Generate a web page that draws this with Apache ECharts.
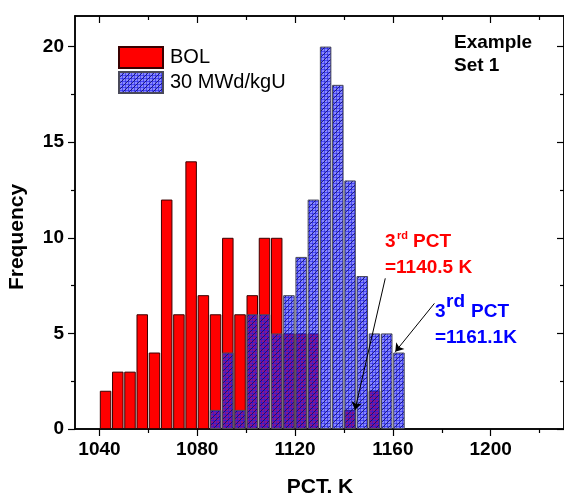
<!DOCTYPE html>
<html>
<head>
<meta charset="utf-8">
<script src="https://cdn.jsdelivr.net/npm/echarts@6/dist/echarts.min.js"></script>
<style>
html,body{margin:0;padding:0;background:#fff;}
#chart{width:564px;height:495px;}
</style>
</head>
<body>
<div id="chart"></div>
<script>
// ---- data ----
const binCenters = [1042.5,1047.5,1052.5,1057.5,1062.5,1067.5,1072.5,1077.5,1082.5,1087.5,1092.5,1097.5,1102.5,1107.5,1112.5,1117.5,1122.5,1127.5,1132.5,1137.5,1142.5,1147.5,1152.5,1157.5,1162.5];
const bolCounts    = [2,3,3,6,4,12,6,14,7,6,10,6,7,10,10,5,5,5,0,0,1,0,2,0,0];
const burnupCounts = [0,0,0,0,0,0,0,0,0,1,4,1,6,6,5,7,9,12,20,18,13,8,5,5,4];
const seriesNames = ['BOL','30 MWd/kgU'];
const xMajorTicks = [1040,1080,1120,1160,1200];
const xMinorTicks = [1060,1100,1140,1180,1220];
const yMajorTicks = [0,5,10,15,20];
const yMinorTicks = [2.5,7.5,12.5,17.5];
const redArrow  = [[1156.9,7.88],[1144.5,0.99]];
const blueArrow = [[1177.0,6.57],[1161.0,4.04]];

const FONT = '"Liberation Sans", Arial, sans-serif';

function toPairs(xs, ys){
  const out=[];
  for(let i=0;i<xs.length;i++){ if(ys[i]>0) out.push([xs[i], ys[i]]); }
  return out;
}

function makePattern(){
  const n=6;
  const c=document.createElement('canvas'); c.width=n; c.height=n;
  const ctx=c.getContext('2d');
  ctx.clearRect(0,0,n,n);
  ctx.fillStyle='rgba(40,40,255,0.55)';
  ctx.fillRect(0,0,n,n);
  ctx.fillStyle='rgba(30,30,230,0.55)';
  for(let k=0;k<n;k+=3){ ctx.fillRect(k,0,1,n); ctx.fillRect(0,k,n,1); }
  ctx.fillStyle='rgba(10,10,90,0.75)';
  for(let x=0;x<n;x++){ const y=(n-1-x); ctx.fillRect(x,y,1,1); }
  return c;
}
const blueFill = {image: makePattern(), repeat:'repeat'};

const chart = echarts.init(document.getElementById('chart'), null, {renderer:'canvas'});

const axisLineStyle = {color:'#000', width:1.5};
const plainLabel = v => String(v);
function xAx(pos, custom, len, inside, labels){
  return {
    type:'value', position:pos, min:1030, max:1230, gridIndex:0,
    axisLine:{show:true, onZero:false, lineStyle:axisLineStyle},
    axisTick:{show:true, customValues:custom, length:len, inside:inside, lineStyle:{color:'#000', width:1.2}},
    axisLabel: labels ? {show:true, customValues:custom, formatter:plainLabel, fontFamily:FONT, fontWeight:'bold', fontSize:19, color:'#000', margin:11} : {show:false},
    splitLine:{show:false}
  };
}
function yAx(pos, custom, len, inside, labels){
  return {
    type:'value', position:pos, min:0, max:21.6, gridIndex:0,
    axisLine:{show:true, onZero:false, lineStyle:axisLineStyle},
    axisTick:{show:true, customValues:custom, length:len, inside:inside, lineStyle:{color:'#000', width:1.2}},
    axisLabel: labels ? {show:true, customValues:custom, formatter:plainLabel, fontFamily:FONT, fontWeight:'bold', fontSize:19, color:'#000', margin:11} : {show:false},
    splitLine:{show:false}
  };
}

const option = {
  animation:false,
  backgroundColor:'#fff',
  grid:{left:75, right:-2, top:16, bottom:66},
  xAxis:[
    xAx('bottom', xMajorTicks, 7, false, true),
    xAx('bottom', xMinorTicks, 4, false, false),
    xAx('top', xMajorTicks, 7, true, false),
    xAx('top', xMinorTicks, 4, true, false)
  ],
  yAxis:[
    yAx('left', yMajorTicks, 7, false, true),
    yAx('left', yMinorTicks, 4, false, false),
    yAx('right', yMajorTicks, 7, true, false),
    yAx('right', yMinorTicks, 4, true, false)
  ],
  legend:{
    orient:'vertical', left:113, top:41, itemWidth:44, itemHeight:21, itemGap:2,
    icon:'rect',
    textStyle:{fontFamily:FONT, fontSize:20, color:'#000', padding:[0,0,0,2]},
    data:seriesNames
  },
  series:[
    {
      name:seriesNames[0], type:'bar', xAxisIndex:0, yAxisIndex:0,
      data: toPairs(binCenters, bolCounts),
      barWidth:11.5, barGap:'-100%',
      itemStyle:{color:'#ff0000', borderColor:'#3a0000', borderWidth:1}
    },
    {
      name:seriesNames[1], type:'bar', xAxisIndex:0, yAxisIndex:0,
      data: toPairs(binCenters, burnupCounts),
      barWidth:11.5, barGap:'-100%',
      itemStyle:{color:blueFill, borderColor:'#4a4a5a', borderWidth:1},
      markLine:{
        silent:true, symbol:['none','arrow'], symbolSize:8,
        label:{show:false},
        lineStyle:{color:'#000', width:1, type:'solid'},
        data:[
          [{coord:redArrow[0]},{coord:redArrow[1]}],
          [{coord:blueArrow[0]},{coord:blueArrow[1]}]
        ]
      }
    }
  ],
  graphic:[
    {type:'text', x:17, y:237, rotation:Math.PI/2,
      style:{text:'Frequency', font:'bold 21px '+FONT, fill:'#000', align:'center', verticalAlign:'middle'}},
    {type:'text', x:320, y:487,
      style:{text:'PCT. K', font:'bold 21px '+FONT, fill:'#000', align:'center', verticalAlign:'middle'}},
    {type:'text', x:454, y:43,
      style:{text:'Example', font:'bold 19px '+FONT, fill:'#000', align:'left', verticalAlign:'middle'}},
    {type:'text', x:454, y:66,
      style:{text:'Set 1', font:'bold 19px '+FONT, fill:'#000', align:'left', verticalAlign:'middle'}},
    {type:'text', x:385, y:242,
      style:{text:'3', font:'bold 19px '+FONT, fill:'#ff0000', align:'left', verticalAlign:'middle'}},
    {type:'text', x:397, y:236,
      style:{text:'rd', font:'bold 11px '+FONT, fill:'#ff0000', align:'left', verticalAlign:'middle'}},
    {type:'text', x:413, y:242,
      style:{text:'PCT', font:'bold 19px '+FONT, fill:'#ff0000', align:'left', verticalAlign:'middle'}},
    {type:'text', x:385, y:268,
      style:{text:'=1140.5 K', font:'bold 19px '+FONT, fill:'#ff0000', align:'left', verticalAlign:'middle'}},
    {type:'text', x:435, y:312,
      style:{text:'3', font:'bold 19px '+FONT, fill:'#0000ff', align:'left', verticalAlign:'middle'}},
    {type:'text', x:446, y:302,
      style:{text:'rd', font:'bold 19px '+FONT, fill:'#0000ff', align:'left', verticalAlign:'middle'}},
    {type:'text', x:471, y:312,
      style:{text:'PCT', font:'bold 19px '+FONT, fill:'#0000ff', align:'left', verticalAlign:'middle'}},
    {type:'text', x:435, y:338,
      style:{text:'=1161.1K', font:'bold 19px '+FONT, fill:'#0000ff', align:'left', verticalAlign:'middle'}}
  ]
};
chart.setOption(option);
</script>
</body>
</html>
